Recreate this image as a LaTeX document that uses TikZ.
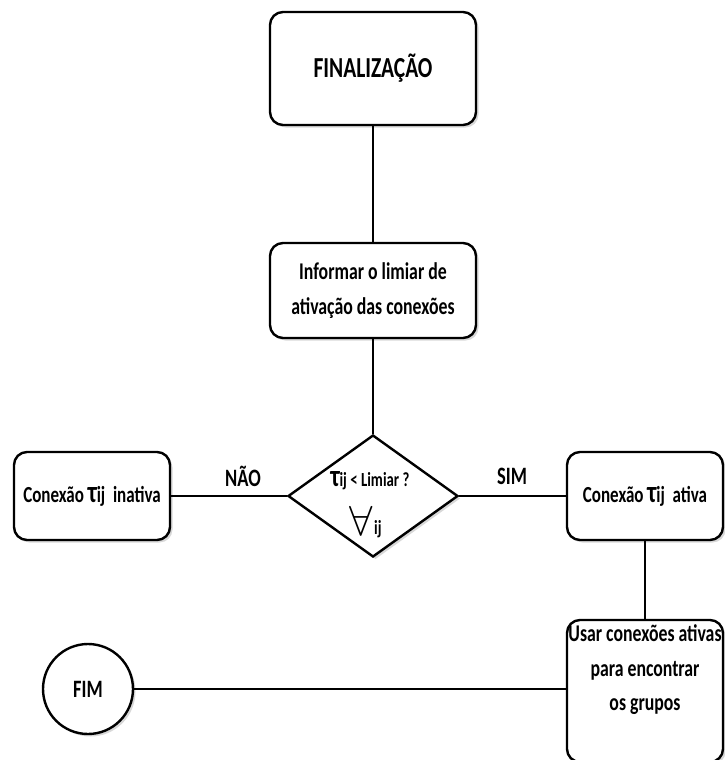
\documentclass[tikz,border=0pt]{standalone}
\usepackage{fontspec}
\setmainfont{Carlito}[FakeStretch=0.74]
\usepackage{graphicx}
\usetikzlibrary{shapes.geometric,shadows}
\newcommand{\bigtau}{{\fontsize{31}{31}\selectfont τ}}
\tikzset{
  shd/.style={drop shadow={shadow xshift=2.5pt,shadow yshift=-2.5pt,opacity=.3}},
  box/.style={draw, line width=2.4pt, rounded corners=13pt, fill=white, shd, align=center, inner sep=0pt},
  txt/.style={align=center, inner sep=0pt},
  conn/.style={line width=2pt},
}
\begin{document}
\begin{tikzpicture}[x=1pt,y=-1pt]
\clip (0,0) rectangle (725,760);
\fill[white] (0,0) rectangle (725,760);
\node[box, minimum width=206pt, minimum height=113pt, font=\bfseries\fontsize{29}{32}\selectfont] (fin) at (373,68.5) {FINALIZAÇÃO};
\node[box, minimum width=206pt, minimum height=95pt, font=\bfseries\fontsize{24}{35}\selectfont] (inf) at (373,290.5) {Informar o limiar de\\ ativação das conexões};
\node[draw, diamond, line width=2.4pt, fill=white, shd, minimum width=170pt, minimum height=122pt, inner sep=0pt] (dec) at (373,496) {};
\node[box, minimum width=156pt, minimum height=88pt, font=\bfseries\fontsize{23}{30}\selectfont] (inat) at (92,496) {Conexão \bigtau ij\, inativa};
\node[box, minimum width=156pt, minimum height=88pt, font=\bfseries\fontsize{23}{30}\selectfont] (atv) at (645,496) {Conexão \bigtau ij\, ativa};
\node[box, minimum width=156pt, minimum height=142pt] (usar) at (645,691) {};
\node[txt, font=\bfseries\fontsize{24}{34.5}\selectfont] (usartxt) at (645,670) {Usar conexões ativas\\ para encontrar\\ os grupos};
\node[draw, circle, line width=2.4pt, fill=white, shd, minimum size=90pt, inner sep=0pt, font=\bfseries\fontsize{25}{30}\selectfont] (fim) at (88,689) {FIM};
% diamond text
\node[txt, font=\bfseries\fontsize{20}{22}\selectfont] (dtop) at (370,481) {\bigtau ij < Limiar ?};
\node[inner sep=0pt] (dall) at (361,521) {\scalebox{4.2}{$\forall$}};
\node[txt, anchor=west, font=\bfseries\fontsize{20}{22}\selectfont] (dij) at (374,529) {ij};
% labels
\node[txt, font=\bfseries\fontsize{25}{28}\selectfont] (nao) at (243,476) {NÃO};
\node[txt, font=\bfseries\fontsize{25}{28}\selectfont] (sim) at (512,476) {SIM};
% lines
\draw[conn] (fin.south) -- (inf.north);
\draw[conn] (inf.south) -- (dec.north);
\draw[conn] (inat.east) -- (dec.west);
\draw[conn] (dec.east) -- (atv.west);
\draw[conn] (atv.south) -- (usar.north);
\draw[conn] (fim.east) -- (fim -| usar.west);
\end{tikzpicture}
\end{document}
